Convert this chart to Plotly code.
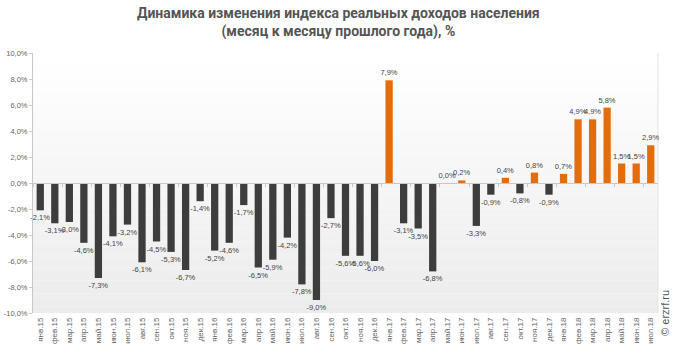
import plotly.graph_objects as go

months = ["янв", "фев", "мар", "апр", "май", "июн", "июл", "авг", "сен", "окт", "ноя", "дек"]
categories = [f"{m}.{y}" for y in ("15", "16", "17") for m in months] + \
             [f"{m}.18" for m in months[:7]]

values = [
    -2.1, -3.1, -3.0, -4.6, -7.3, -4.1, -3.2, -6.1, -4.5, -5.3, -6.7, -1.4,
    -5.2, -4.6, -1.7, -6.5, -5.9, -4.2, -7.8, -9.0, -2.7, -5.6, -5.6, -6.0,
    7.9, -3.1, -3.5, -6.8, 0.0, 0.2, -3.3, -0.9, 0.4, -0.8, 0.8, -0.9,
    0.7, 4.9, 4.9, 5.8, 1.5, 1.5, 2.9,
]

y_ticks = [-10, -8, -6, -4, -2, 0, 2, 4, 6, 8, 10]


def pct(v):
    return f"{v:.1f}".replace(".", ",") + "%"


NEG = "#3d3d3d"
POS = "#e46c0a"
FONT = "Liberation Sans, Arial"

labels = [pct(v) for v in values]
y_tick_text = [pct(v) for v in y_ticks]
colors = [POS if v >= 0 else NEG for v in values]
x_range = [-0.5, len(categories) - 0.5]

fig = go.Figure()
fig.add_trace(go.Bar(
    x=categories, y=values, marker_color=colors, marker_line_width=0,
    text=labels, textposition="outside", cliponaxis=False, constraintext="none",
    textfont=dict(size=7.5, color="#444444", family=FONT),
    showlegend=False, hoverinfo="x+y",
))
# helper trace for the tick axis at zero
fig.add_trace(go.Scatter(x=categories, y=[None] * len(categories), xaxis="x2",
                         mode="lines", showlegend=False, hoverinfo="skip"))

# vertical gradient background
shapes = []
n = 40
for i in range(n):
    t = i / (n - 1)
    c = int(round(255 - (255 - 236) * t))
    shapes.append(dict(type="rect", xref="paper", yref="paper", x0=0, x1=1,
                       y0=1 - (i + 1) / n, y1=1 - i / n,
                       fillcolor=f"rgb({c},{c},{c})", line_width=0, layer="below"))
shapes.append(dict(type="line", xref="paper", yref="paper", x0=1, x1=1, y0=0, y1=1,
                   line=dict(color="#e4e4e4", width=1), layer="below"))

fig.update_layout(
    width=673, height=353,
    margin=dict(l=33, r=15, t=53, b=40),
    paper_bgcolor="white", plot_bgcolor="rgba(0,0,0,0)",
    bargap=0.5,
    shapes=shapes,
    xaxis=dict(
        type="category", categoryorder="array", categoryarray=categories,
        range=x_range, autorange=False, automargin=False,
        tickangle=-90, tickfont=dict(size=8, color="#666666", family=FONT),
        showgrid=False, zeroline=False, showline=False, ticks="",
        ticklabelstandoff=2,
    ),
    xaxis2=dict(
        type="category", categoryorder="array", categoryarray=categories,
        range=x_range, autorange=False,
        overlaying="x", anchor="free", position=0.5,
        showticklabels=False, ticks="outside", ticklen=3, tickcolor="#c8c8c8",
        tickson="boundaries", showline=True, linecolor="#c8c8c8", linewidth=1,
        showgrid=False, zeroline=False,
    ),
    yaxis=dict(
        range=[-10, 10], tickmode="array", tickvals=y_ticks, ticktext=y_tick_text,
        automargin=False,
        tickfont=dict(size=7.5, color="#666666", family=FONT),
        showgrid=False, zeroline=False, showline=True, linecolor="#c8c8c8",
        ticks="outside", ticklen=3, tickcolor="#c8c8c8",
    ),
    annotations=[
        dict(
            text="<b>Динамика изменения индекса реальных доходов населения<br>(месяц к месяцу прошлого года), %</b>",
            xref="paper", yref="paper", x=0.488, y=1.0, yshift=50,
            xanchor="center", yanchor="top", showarrow=False, align="center",
            font=dict(family="Roboto", size=14, color="#555555"),
        ),
        dict(
            text="© erzrf.ru", xref="paper", yref="paper", x=1.011, y=0.0,
            xanchor="center", yanchor="middle", textangle=-90, showarrow=False,
            font=dict(size=11, color="#555555", family=FONT),
        ),
    ],
)

fig.write_html("out.html")
